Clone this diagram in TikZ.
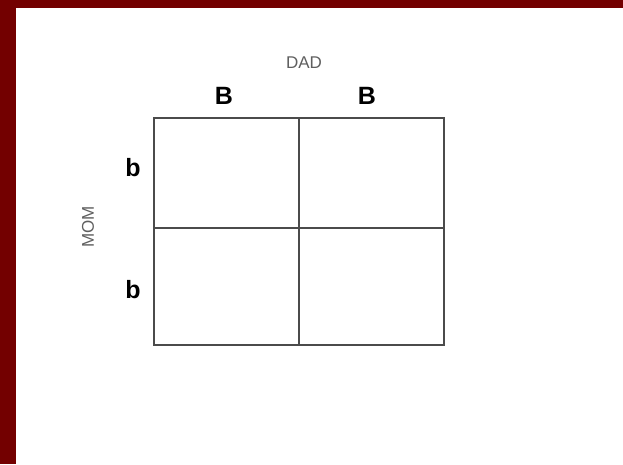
\documentclass[tikz,border=0pt]{standalone}
\usepackage{fontspec}
\setmainfont{Liberation Sans}
\usetikzlibrary{positioning}
\definecolor{slideframe}{RGB}{115,0,0}
\definecolor{gridline}{RGB}{75,75,75}
\definecolor{labelgray}{RGB}{95,95,95}

\begin{document}
\begin{tikzpicture}[x=1pt, y=-1pt,
    cell/.style={draw=gridline, line width=1.6pt, minimum width=145pt, inner sep=0pt, anchor=north west},
    allele/.style={font=\fontsize{25}{25}\selectfont\bfseries, inner sep=0pt},
    parent/.style={font=\fontsize{17}{17}\selectfont, text=labelgray, inner sep=0pt}]
    % slide frame and page
    \fill[slideframe] (0,0) rectangle (623,464);
    \fill[white] (16,8) rectangle (623,464);
    \useasboundingbox (0,0) rectangle (623,464);

    % punnett square
    \node[cell, minimum height=110pt] (c11) at (153,117) {};
    \node[cell, minimum height=110pt] (c12) at (298,117) {};
    \node[cell, minimum height=117pt] (c21) at (153,227) {};
    \node[cell, minimum height=117pt] (c22) at (298,227) {};

    % alleles
    \node[allele] (dadB1) at (224,96) {B};
    \node[allele] (dadB2) at (367,96) {B};
    \node[allele] (momb1) at (133,168) {b};
    \node[allele] (momb2) at (133,290) {b};

    % parents
    \node[parent] (dad) at (304,63) {DAD};
    \node[parent, rotate=90] (mom) at (88,227) {MOM};
\end{tikzpicture}
\end{document}
